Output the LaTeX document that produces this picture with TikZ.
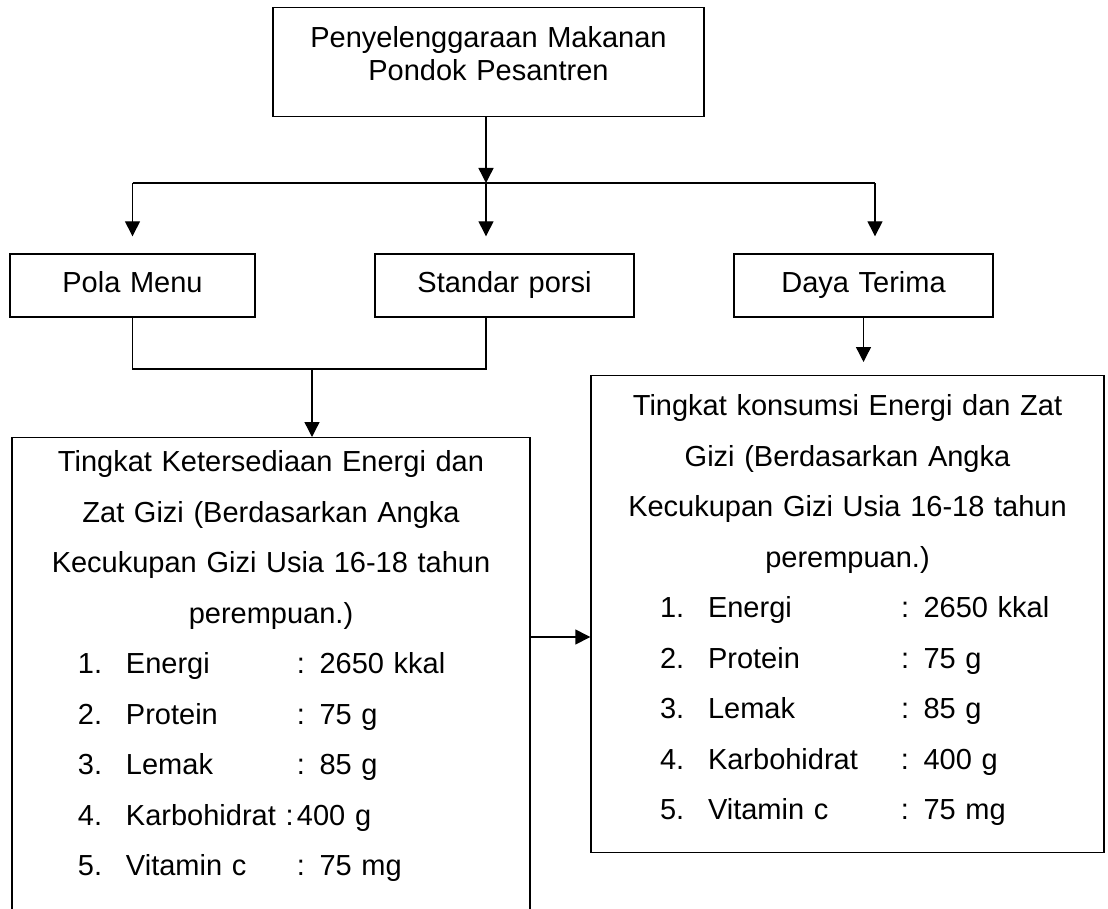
\documentclass[tikz,border=0pt]{standalone}
\usepackage{fontspec}
\setmainfont{Liberation Sans}
\usetikzlibrary{arrows.meta}

\newcommand{\gizi}[5]{\makebox[\linewidth][l]{\hspace*{#1}\makebox[48pt][l]{#2}\makebox[#3][l]{#4}#5}}

\begin{document}
\begin{tikzpicture} [x = 1pt, y = -1pt, line width = 1.4pt,
    box/.style = {draw, rectangle, inner xsep = 0pt, align = center,
        font = \fontsize{29}{33}\selectfont, text height = 21pt},
    pick/.style = {box, minimum height = 63pt, text depth = 6pt, inner ysep = 0pt},
    tall/.style = {box, font = \fontsize{29}{50.5}\selectfont, anchor = north},
    arr/.style = {-{Triangle[width = 15pt, length = 15pt]}},
    gap/.style = {shorten > = 17pt}]

\useasboundingbox (0,0) rectangle (1108,909);

\node (ppm) [box, text width = 431pt, inner ysep = 19pt, text depth = 50pt, anchor = north]
    at (488.5,7) {Penyelenggaraan Makanan\\Pondok Pesantren};

\node (menu)   [pick, text width = 245pt] at (132.5,285.5) {Pola Menu};
\node (porsi)  [pick, text width = 259pt] at (504.5,285.5) {Standar porsi};
\node (terima) [pick, text width = 259pt] at (863.5,285.5) {Daya Terima};

\node (avail) [tall, text width = 518pt, inner ysep = 13pt, text depth = 489pt] at (271,437)
    {Tingkat Ketersediaan Energi dan\\
     Zat Gizi (Berdasarkan Angka\\
     Kecukupan Gizi Usia 16-18 tahun\\
     perempuan.)\\
     \gizi{66pt}{1.}{171pt}{Energi}{: 2650 kkal}\\
     \gizi{66pt}{2.}{171pt}{Protein}{: 75 g}\\
     \gizi{66pt}{3.}{171pt}{Lemak}{: 85 g}\\
     \gizi{66pt}{4.}{171pt}{Karbohidrat :}{400 g}\\
     \gizi{66pt}{5.}{171pt}{Vitamin c}{: 75 mg}};

\node (konsumsi) [tall, text width = 513pt, inner ysep = 19pt, text depth = 418pt] at (847.5,375)
    {Tingkat konsumsi Energi dan Zat\\
     Gizi (Berdasarkan Angka\\
     Kecukupan Gizi Usia 16-18 tahun\\
     perempuan.)\\
     \gizi{69pt}{1.}{193pt}{Energi}{: 2650 kkal}\\
     \gizi{69pt}{2.}{193pt}{Protein}{: 75 g}\\
     \gizi{69pt}{3.}{193pt}{Lemak}{: 85 g}\\
     \gizi{69pt}{4.}{193pt}{Karbohidrat}{: 400 g}\\
     \gizi{69pt}{5.}{193pt}{Vitamin c}{: 75 mg}};

% split points
\coordinate (split)  at (486,183);
\coordinate (rsplit) at (875,183);
\coordinate (join)   at (312,369);
\coordinate (bridge) at (560,637);

\draw [arr] (ppm.south -| split) -- (split);
\draw (menu.north |- split) -- (rsplit);
\draw [arr, gap] (menu.north |- split) -- (menu.north);
\draw [arr, gap] (split) -- (split |- porsi.north);
\draw [arr, gap] (rsplit) -- (rsplit |- terima.north);

\draw (menu.south) |- (join) -| (porsi.south -| split);
\draw [arr] (join) -- (join |- avail.north);

\draw [arr, shorten > = 13pt] (terima.south) -- (terima.south |- konsumsi.north);
\draw [arr] (avail.east |- bridge) -- (konsumsi.west |- bridge);

\end{tikzpicture}
\end{document}
